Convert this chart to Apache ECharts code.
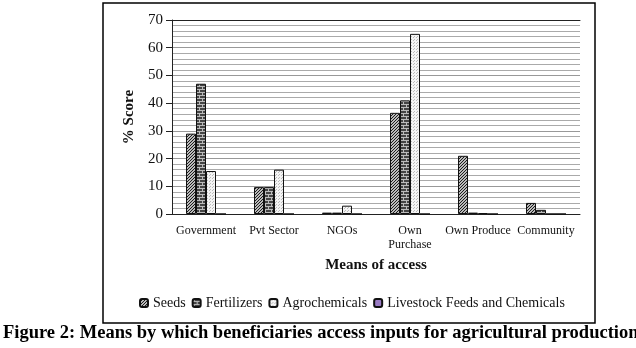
<!DOCTYPE html>
<html lang="en">
  <head>
    <meta charset="UTF-8" />
    <script src="https://cdn.jsdelivr.net/npm/echarts@6/dist/echarts.min.js"></script>
    <title>Figure 2</title>
    <style>
      body { margin: 0; background: #fff; }
      #app { width: 636px; height: 348px; }
    </style>
  </head>
  <body>
    <div id="app"></div>

    <script>
      const categories = ["Government", "Pvt Sector", "NGOs", "Own\nPurchase", "Own Produce", "Community"];
      const seeds = [29, 9.7, 0.5, 36.5, 21, 4];
      const fertilizers = [47, 9.7, 0.5, 41, 0.5, 1.5];
      const agrochemicals = [15.5, 16, 3, 65, 0.3, 0];
      const livestock = [0, 0, 0, 0, 0, 0];

      const serif = "'Liberation Serif', 'DejaVu Serif', serif";

      // little canvas tiles for the hatched fills
      function tile(size, draw) {
        const c = document.createElement("canvas");
        c.width = size;
        c.height = size;
        draw(c.getContext("2d"));
        return { image: c, repeat: "repeat" };
      }

      const hatch = tile(3, (g) => {
        g.fillStyle = "#fff";
        g.fillRect(0, 0, 3, 3);
        g.strokeStyle = "#111";
        g.lineWidth = 1.1;
        g.beginPath();
        g.moveTo(-1, 4); g.lineTo(4, -1);
        g.moveTo(2, 4); g.lineTo(4, 2);
        g.moveTo(-1, 1); g.lineTo(1, -1);
        g.stroke();
      });

      const brick = tile(6, (g) => {
        g.fillStyle = "#444";
        g.fillRect(0, 0, 6, 6);
        g.fillStyle = "#bbb";
        g.fillRect(0, 2, 6, 1);
        g.fillRect(0, 5, 6, 1);
        g.fillRect(1, 0, 1, 2);
        g.fillRect(4, 3, 1, 2);
      });

      const dots = tile(3, (g) => {
        g.fillStyle = "#f4f4f4";
        g.fillRect(0, 0, 3, 3);
        g.fillStyle = "#bbb";
        g.fillRect(0, 0, 1, 1);
        g.fillRect(2, 1, 1, 1);
      });

      function bar(name, data, fill) {
        return {
          name: name,
          type: "bar",
          data: data,
          barWidth: 10,
          barGap: "0%",
          itemStyle: { color: fill, borderColor: "#111", borderWidth: 1 },
        };
      }

      const echart = echarts.init(document.getElementById("app"));
      echart.setOption({
        animation: false,
        backgroundColor: "#fff",
        grid: { left: 172, right: 56, top: 20, bottom: 134 },
        legend: {
          bottom: 33,
          left: 134,
          itemWidth: 8,
          itemHeight: 8,
          itemGap: 6,
          textStyle: { fontFamily: serif, fontSize: 14, color: "#111" },
          data: ["Seeds", "Fertilizers", "Agrochemicals", "Livestock Feeds and Chemicals"],
        },
        xAxis: [
          {
            type: "category",
            data: categories,
            name: "Means of access",
            nameLocation: "middle",
            nameGap: 44,
            nameTextStyle: { fontFamily: serif, fontSize: 15, fontWeight: "bold", color: "#111" },
            axisLine: { lineStyle: { color: "#222" } },
            axisTick: { show: false },
            axisLabel: { fontFamily: serif, fontSize: 12, color: "#111", margin: 10, interval: 0, lineHeight: 14 },
          },
          {
            type: "category",
            data: categories,
            position: "top",
            axisLine: { lineStyle: { color: "#222" } },
            axisTick: { show: false },
            axisLabel: { show: false },
          },
        ],
        yAxis: {
          type: "value",
          min: 0,
          max: 70,
          interval: 10,
          name: "% Score",
          nameLocation: "middle",
          nameGap: 35,
          nameTextStyle: { fontFamily: serif, fontSize: 15, fontWeight: "bold", color: "#111" },
          axisLine: { show: true, lineStyle: { color: "#222" } },
          axisTick: { show: true, length: 6, lineStyle: { color: "#222" } },
          axisLabel: { fontFamily: serif, fontSize: 15, color: "#111", margin: 9 },
          splitLine: { lineStyle: { color: "#999" } },
          minorTick: { show: false, splitNumber: 5 },
          minorSplitLine: { show: true, lineStyle: { color: "#aaa" } },
        },
        series: [
          bar("Seeds", seeds, hatch),
          bar("Fertilizers", fertilizers, brick),
          bar("Agrochemicals", agrochemicals, dots),
          bar("Livestock Feeds and Chemicals", livestock, "#9a7cc4"),
        ],
        graphic: [
          {
            type: "rect",
            shape: { x: 103, y: 3, width: 492, height: 320 },
            style: { fill: null, stroke: "#000", lineWidth: 1.5 },
            silent: true,
          },
          {
            type: "text",
            left: 3,
            top: 324,
            style: {
              text: "Figure 2: Means by which beneficiaries access inputs for agricultural production",
              font: "bold 18.5px " + serif,
              fill: "#000",
            },
          },
        ],
      });
    </script>
  </body>
</html>
